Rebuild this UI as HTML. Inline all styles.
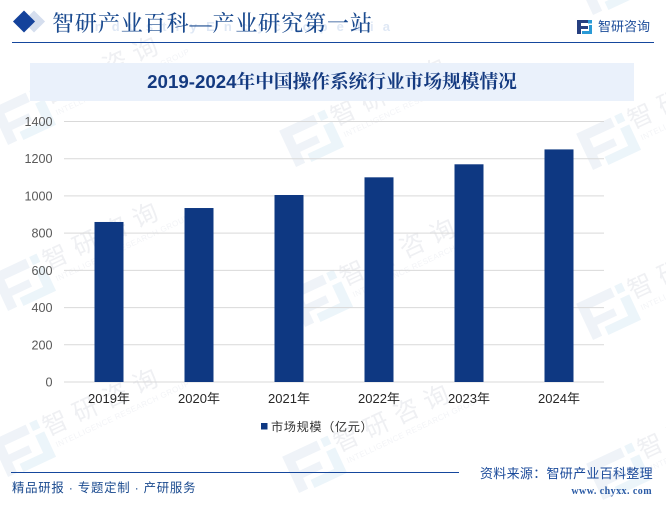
<!DOCTYPE html>
<html lang="zh">
<head>
<meta charset="utf-8">
<title>2019-2024年中国操作系统行业市场规模情况</title>
<style>
html,body{margin:0;padding:0;background:#fff;}
body{width:666px;height:510px;overflow:hidden;position:relative;}
svg{display:block;position:absolute;left:0;top:0;}
text{font-family:"Liberation Sans","Noto Sans CJK SC",sans-serif;}
.serif{font-family:"Liberation Serif","Noto Serif CJK SC",serif;}
</style>
</head>
<body>
<svg id="chart" width="666" height="510" viewBox="0 0 666 510">
  <g id="watermarks"></g>

  <g>
    <rect x="26.2" y="13.7" width="15.6" height="15.6" transform="rotate(45 34 21.5)" fill="#d5deee"/>
    <rect x="16.2" y="13.7" width="15.6" height="15.6" transform="rotate(45 24 21.5)" fill="#14429b"/>
    <text x="82" y="31" font-size="13" font-weight="bold" fill="#dfe8f5" letter-spacing="9.1">IndustryEncyclopedia</text>
    <text class="serif" x="52" y="31" font-size="22" font-weight="500" fill="#1a4a8f" textLength="320" lengthAdjust="spacing">智研产业百科—产业研究第一站</text>
    <line x1="12" y1="42.5" x2="654" y2="42.5" stroke="#15479d" stroke-width="1"/>
    <g>
      <path d="M577 20h13v3h-9v3h7v3h-7v5h-4z" fill="#263f80"/>
      <path d="M588 20h4v3.5h-4z" fill="#2a9ad6"/>
      <path d="M589 25h3v9h-10v-3h7z" fill="#2a9ad6"/>
    </g>
    <text x="598" y="31" font-size="13" fill="#1d4d9a">智研咨询</text>
  </g>

  <rect x="30" y="63" width="604" height="38" fill="#eaf1fb"/>
  <text x="332" y="88" text-anchor="middle" font-size="18.7" font-weight="bold" fill="#143a80" style="font-family:'Liberation Sans','Noto Serif CJK SC',serif">2019-2024年中国操作系统行业市场规模情况</text>

  <g id="grid"></g>
  <g id="yaxis"></g>
  <g id="bars"></g>
  <g id="xaxis"></g>

  <g>
    <rect x="261" y="423" width="6.5" height="6.5" fill="#0e3882"/>
    <text x="271" y="431" font-size="12.2" fill="#333" letter-spacing="0.6">市场规模（亿元）</text>
  </g>

  <g>
    <line x1="11" y1="472.5" x2="459" y2="472.5" stroke="#15479d" stroke-width="1"/>
    <text x="12" y="492" font-size="12.4" fill="#1a4a8f" letter-spacing="0.75">精品研报 · 专题定制 · 产研服务</text>
    <text x="480" y="478" font-size="13" fill="#1a4a9a" letter-spacing="0.3">资料来源：智研产业百科整理</text>
    <text x="652" y="494" text-anchor="end" font-size="10" font-weight="bold" fill="#2a5aa5" letter-spacing="0.45" class="serif">www. chyxx. com</text>
  </g>
</svg>

<script>
var categories = ['2019年', '2020年', '2021年', '2022年', '2023年', '2024年'];
var marketSize = [860, 935, 1005, 1100, 1170, 1250];
var yTicks = [0, 200, 400, 600, 800, 1000, 1200, 1400];

var NS = 'http://www.w3.org/2000/svg';
var plot = { left: 64, right: 604, top: 121.5, bottom: 382, max: 1400 };
var barWidth = 29;

function yScale(v) {
  return plot.bottom - (v / plot.max) * (plot.bottom - plot.top);
}
function xScale(i) {
  return plot.left + (i + 0.5) * (plot.right - plot.left) / categories.length;
}
function make(tag, attrs, parent) {
  var el = document.createElementNS(NS, tag);
  for (var k in attrs) { el.setAttribute(k, attrs[k]); }
  parent.appendChild(el);
  return el;
}

var gridG = document.getElementById('grid');
var yG = document.getElementById('yaxis');
yTicks.forEach(function (t) {
  var y = yScale(t);
  var line = make('line', { x1: plot.left, x2: plot.right, y1: y, y2: y, stroke: '#d9d9d9', 'stroke-width': 1 }, gridG);
  
  
  var label = make('text', { x: 52.5, y: y + 4.5, 'text-anchor': 'end', 'font-size': 12.6, fill: '#595959' }, yG);
  
  
  label.textContent = t;
});

var barsG = document.getElementById('bars');
var xG = document.getElementById('xaxis');
categories.forEach(function (c, i) {
  var top = yScale(marketSize[i]);
  var bar = make('rect', { x: xScale(i) - barWidth / 2, y: top, width: barWidth, height: plot.bottom - top, fill: '#0e3882' }, barsG);
  
  
  var label = make('text', { x: xScale(i), y: 403, 'text-anchor': 'middle', 'font-size': 13, fill: '#262626' }, xG);
  
  
  label.textContent = c;
});

/* Background watermark stamps: decoration, not chart data */
var stampOrigins = [
  [25, 115], [25, 281], [25, 447],
  [313, -30], [313, 137], [322, 297], [316, 463],
  [610, -15], [610, 140], [610, 310], [620, 470]
];
var wmG = document.getElementById('watermarks');
stampOrigins.forEach(function (p) {
  var g = make('g', { transform: 'translate(' + p[0] + ' ' + p[1] + ') rotate(-25)' }, wmG);
  
  
  make('path', { d: 'M-28 -20H10V-10H-18V0H4V8H-18V20H-28Z', fill: '#eff3f8' }, g);
  make('path', { d: 'M14 -20H22V-11H14Z M14 -6H24V22H-12V13H14Z', fill: '#ecf5fa' }, g);
  var t = make('text', { x: 25, y: 0, 'font-size': 25, fill: '#eff0f3', 'letter-spacing': 8 }, g);
  t.textContent = '智研咨询';
  var s = make('text', { x: 29, y: 14, 'font-size': 8, fill: '#f3f4f7', 'letter-spacing': 0.4 }, g);
  s.textContent = 'INTELLIGENCE RESEARCH GROUP';
});
</script>
</body>
</html>
